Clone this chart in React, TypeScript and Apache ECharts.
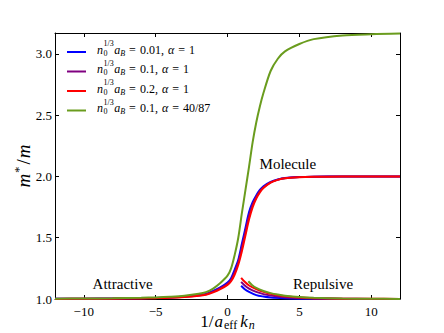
import React, { useEffect, useRef } from "react";
import * as echarts from "echarts";

// ---- data ----
const xMol = [-12, -10, -8, -6, -5, -4, -3, -2, -1.5, -1, -0.5, 0, 0.25, 0.5, 0.75, 1, 1.25, 1.5, 1.75, 2, 2.25, 2.5, 3, 3.5, 4, 5, 6, 8, 10, 12];
const blueMol = [1.002, 1.003, 1.004, 1.007, 1.009, 1.013, 1.02, 1.032, 1.042, 1.066, 1.095, 1.135, 1.17, 1.24, 1.32, 1.45, 1.58, 1.71, 1.79, 1.845, 1.89, 1.92, 1.955, 1.975, 1.987, 1.995, 1.998, 2.0, 2.0, 2.0];
const purpleMol = [1.0015, 1.0025, 1.0035, 1.006, 1.008, 1.012, 1.018, 1.029, 1.038, 1.06, 1.088, 1.125, 1.157, 1.22, 1.3, 1.42, 1.55, 1.68, 1.77, 1.832, 1.88, 1.912, 1.952, 1.974, 1.986, 1.995, 1.998, 2.0, 2.0, 2.0];
const redMol = [1.001, 1.002, 1.003, 1.005, 1.007, 1.01, 1.016, 1.026, 1.035, 1.054, 1.08, 1.115, 1.145, 1.2, 1.28, 1.39, 1.52, 1.65, 1.75, 1.82, 1.87, 1.905, 1.95, 1.972, 1.985, 1.994, 1.997, 1.999, 2.0, 2.0];
const greenMol = [1.003, 1.004, 1.006, 1.01, 1.013, 1.018, 1.026, 1.042, 1.056, 1.085, 1.13, 1.19, 1.25, 1.36, 1.5, 1.7, 1.89, 2.08, 2.28, 2.44, 2.57, 2.68, 2.86, 2.96, 3.02, 3.08, 3.12, 3.15, 3.16, 3.165];

const xRep = [0.95, 1.2, 1.5, 2, 2.5, 3, 4, 5, 6, 8, 10, 12];
const blueRep = [1.108, 1.08, 1.058, 1.032, 1.02, 1.012, 1.006, 1.003, 1.002, 1.001, 1.0, 1.0];
const purpleRep = [1.14, 1.11, 1.085, 1.058, 1.04, 1.028, 1.014, 1.008, 1.005, 1.002, 1.001, 1.0005];
const redRep = [1.173, 1.14, 1.11, 1.08, 1.058, 1.042, 1.022, 1.012, 1.007, 1.003, 1.0015, 1.001];
const xRepGreen = [1.45, 1.7, 2, 2.5, 3, 3.5, 4, 5, 6, 8, 10, 12];
const greenRep = [1.145, 1.115, 1.09, 1.065, 1.048, 1.036, 1.027, 1.016, 1.01, 1.004, 1.002, 1.001];

const xTicks = [-10, -5, 0, 5, 10];
const yTicks = [1.0, 1.5, 2.0, 2.5, 3.0];
const legendDensity = ["0.01", "0.1", "0.2", "0.1"];
const legendAlpha = ["1", "1", "1", "40/87"];
const annotationTexts = ["Attractive", "Molecule", "Repulsive"];
const annotationX = [-7.3, 4.2, 6.65];
const annotationY = [1.122, 2.1, 1.122];

const colors = ["#0000ff", "#800080", "#ff0000", "#6a9c1e"];
const SERIF = "'Liberation Serif', 'DejaVu Serif', serif";

const pairs = (xs: number[], ys: number[]) => xs.map((x, i) => [x, ys[i]]);

export default function App() {
  const ref = useRef<HTMLDivElement>(null);
  useEffect(() => {
    if (!ref.current) return;
    const chart = echarts.init(ref.current, undefined, { renderer: "svg" });
    const molSets = [blueMol, purpleMol, redMol, greenMol];
    const repSets = [
      pairs(xRep, blueRep),
      pairs(xRep, purpleRep),
      pairs(xRep, redRep),
      pairs(xRepGreen, greenRep),
    ];
    const series: any[] = [];
    for (let i = 0; i < 4; i++) {
      series.push({
        type: "line",
        name: "mol" + i,
        data: pairs(xMol, molSets[i]),
        showSymbol: false,
        symbol: "none",
        smooth: 0.3,
        lineStyle: { color: colors[i], width: 2 },
        itemStyle: { color: colors[i] },
        z: 2 + i,
      });
      series.push({
        type: "line",
        name: "rep" + i,
        data: repSets[i],
        showSymbol: false,
        symbol: "none",
        smooth: 0.3,
        lineStyle: { color: colors[i], width: 2 },
        itemStyle: { color: colors[i] },
        z: 2 + i,
      });
    }
    const fmtX = (v: number) => (v < 0 ? "\u2212" + Math.abs(v) : String(v));
    const axisCommon = {
      axisLine: { show: true, onZero: false, lineStyle: { color: "#000", width: 1 } },
      splitLine: { show: false },
    };
    chart.setOption({
      animation: false,
      backgroundColor: "#fff",
      textStyle: { fontFamily: SERIF },
      grid: { left: 55, right: 44, top: 33, bottom: 34, containLabel: false, outerBoundsMode: "none" },
      xAxis: [
        {
          type: "value",
          min: -12,
          max: 12,
          position: "bottom",
          ...axisCommon,
          axisTick: { show: true, inside: true, length: 4, customValues: xTicks, lineStyle: { color: "#000" } },
          axisLabel: {
            customValues: xTicks,
            formatter: fmtX,
            margin: 6,
            color: "#000",
            fontFamily: SERIF,
            fontSize: 13,
          },
          name: "{r|1/}{i|a}{s|eff}{i|k}{si|n}",
          nameLocation: "middle",
          nameGap: 12,
          nameMoveOverlap: false,
          nameTextStyle: {
            fontFamily: SERIF,
            rich: {
              r: { fontFamily: SERIF, fontSize: 17, lineHeight: 20, color: "#000" },
              i: { fontFamily: SERIF, fontSize: 17, fontStyle: "italic", lineHeight: 20, color: "#000", padding: [0, 1, 0, 1] },
              s: { fontFamily: SERIF, fontSize: 12, lineHeight: 15, verticalAlign: "bottom", color: "#000", padding: [0, 2, 0, 0] },
              si: { fontFamily: SERIF, fontSize: 12, fontStyle: "italic", lineHeight: 15, verticalAlign: "bottom", color: "#000" },
            },
          },
        },
        {
          type: "value",
          min: -12,
          max: 12,
          position: "top",
          ...axisCommon,
          axisTick: { show: true, inside: true, length: 4, customValues: xTicks, lineStyle: { color: "#000" } },
          axisLabel: { show: false },
        },
      ],
      yAxis: [
        {
          type: "value",
          min: 1.0,
          max: 3.17,
          position: "left",
          ...axisCommon,
          axisTick: { show: true, inside: true, length: 4, customValues: yTicks, lineStyle: { color: "#000" } },
          axisLabel: {
            customValues: yTicks,
            formatter: (v: number) => v.toFixed(1),
            margin: 3,
            color: "#000",
            fontFamily: SERIF,
            fontSize: 13,
          },
          name: "{i|m}{sp|*}{r|/}{i|m}",
          nameLocation: "middle",
          nameRotate: 90,
          nameGap: 21,
          nameMoveOverlap: false,
          nameTextStyle: {
            fontFamily: SERIF,
            rich: {
              i: { fontFamily: SERIF, fontSize: 19, fontStyle: "italic", lineHeight: 22, color: "#000" },
              r: { fontFamily: SERIF, fontSize: 19, lineHeight: 22, color: "#000", padding: [0, 1, 0, 1] },
              sp: { fontFamily: SERIF, fontSize: 13, lineHeight: 13, verticalAlign: "top", color: "#000", padding: [0, 1, 0, 1] },
            },
          },
        },
        {
          type: "value",
          min: 1.0,
          max: 3.17,
          position: "right",
          ...axisCommon,
          axisTick: { show: true, inside: true, length: 4, customValues: yTicks, lineStyle: { color: "#000" } },
          axisLabel: { show: false },
        },
      ],
      series,
    });

    // ---- legend and annotations as graphic text ----
    const ctx = document.createElement("canvas").getContext("2d")!;
    const fontOf = (size: number, it: boolean) => `${it ? "italic " : ""}${size}px ${SERIF}`;
    const measure = (t: string, size: number, it: boolean) => {
      ctx.font = fontOf(size, it);
      return ctx.measureText(t).width;
    };
    const graphics: any[] = [];
    const legendLeft = 67;
    const legendTop = 52;
    const legendStep = 19.5;
    const M = 12;
    const S = 8;
    for (let i = 0; i < 4; i++) {
      const cy = legendTop + legendStep * i;
      const ty = cy - 2.5;
      graphics.push({
        type: "line",
        shape: { x1: legendLeft, y1: cy, x2: legendLeft + 19, y2: cy },
        style: { stroke: colors[i], lineWidth: 2 },
      });
      let x = legendLeft + 30;
      const add = (t: string, size: number, it: boolean, dy: number) => {
        graphics.push({
          type: "text",
          x,
          y: ty + dy,
          style: {
            text: t,
            font: fontOf(size, it),
            fill: "#000",
            align: "left",
            verticalAlign: "middle",
          },
        });
        return measure(t, size, it);
      };
      x += add("n", M, true, 0) + 0.5;
      const w1 = add("1/3", S, false, -6);
      const w2 = add("0", S, false, 3.5);
      x += Math.max(w1, w2) + 0.5;
      x += add("a", M, true, 0);
      x += add("B", S, true, 3.5) + 4;
      x += add("=", M, false, 0) + 4;
      x += add(legendDensity[i] + ",", M, false, 0) + 4;
      x += add("\u03b1", M, true, 0) + 4;
      x += add("=", M, false, 0) + 4;
      add(legendAlpha[i], M, false, 0);
    }
    for (let k = 0; k < annotationTexts.length; k++) {
      const p = chart.convertToPixel({ gridIndex: 0 }, [annotationX[k], annotationY[k]]) as number[];
      graphics.push({
        type: "text",
        x: p[0],
        y: p[1],
        style: {
          text: annotationTexts[k],
          font: fontOf(15, false),
          fill: "#000",
          align: "center",
          verticalAlign: "middle",
        },
      });
    }
    chart.setOption({ graphic: graphics });
    return () => chart.dispose();
  }, []);
  return <div ref={ref} style={{ position: "fixed", left: 0, top: 0, width: 444, height: 333 }} />;
}
